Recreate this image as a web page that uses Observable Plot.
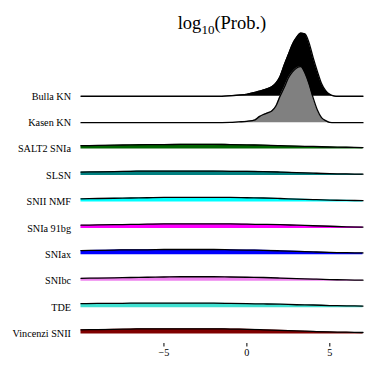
<!DOCTYPE html>
<html>
<head>
<meta charset="utf-8">
<script src="https://cdn.jsdelivr.net/npm/d3@7"></script>
<script src="https://cdn.jsdelivr.net/npm/@observablehq/plot@0.6"></script>
<style>
  html, body { margin: 0; padding: 0; background: white; }
</style>
</head>
<body>
<div id="chart"></div>
<script>
// Row names (top to bottom) and fill colours
const names = ["Bulla KN", "Kasen KN", "SALT2 SNIa", "SLSN", "SNII NMF", "SNIa 91bg", "SNIax", "SNIbc", "TDE", "Vincenzi SNII"];
const colors = ["black", "gray", "darkgreen", "teal", "cyan", "magenta", "blue", "violet", "turquoise", "maroon"];

// log10(Prob.) sample grids
const knGrid = [-10, -2, -1, -0.5, 0, 0.5, 0.75, 1, 1.25, 1.5, 1.75, 2, 2.25, 2.5, 2.75, 3, 3.25, 3.5, 3.75, 4, 4.25, 4.5, 4.75, 5, 5.25, 5.5, 7];
const coarseGrid = [-10, -9, -8, -7, -6, -5, -4, -3, -2, -1, 0, 1, 2, 3, 4, 5, 6, 7];

// density heights (in row units)
const bullaKN = [0, 0, 0.02, 0.045, 0.075, 0.15, 0.19, 0.24, 0.29, 0.36, 0.5, 0.75, 1.18, 1.58, 1.97, 2.23, 2.39, 2.36, 2.02, 1.45, 0.94, 0.48, 0.21, 0.07, 0.01, 0, 0];
const kasenKN = [0, 0, 0.01, 0.03, 0.05, 0.11, 0.23, 0.31, 0.37, 0.44, 0.63, 1.0, 1.33, 1.69, 1.92, 2.07, 2.12, 1.88, 1.46, 0.93, 0.48, 0.19, 0.08, 0.01, 0, 0, 0];
const salt2 = [0.13, 0.14, 0.15, 0.16, 0.17, 0.17, 0.18, 0.18, 0.18, 0.17, 0.16, 0.15, 0.13, 0.11, 0.1, 0.08, 0.07, 0.06];
const slsn = [0.13, 0.14, 0.15, 0.16, 0.17, 0.17, 0.17, 0.17, 0.17, 0.16, 0.16, 0.15, 0.13, 0.11, 0.09, 0.07, 0.06, 0.05];
const sniiNmf = [0.12, 0.13, 0.14, 0.15, 0.16, 0.17, 0.17, 0.17, 0.17, 0.17, 0.16, 0.15, 0.13, 0.11, 0.09, 0.07, 0.06, 0.05];
const snia91bg = [0.12, 0.13, 0.14, 0.15, 0.16, 0.17, 0.17, 0.17, 0.17, 0.17, 0.16, 0.15, 0.14, 0.12, 0.1, 0.08, 0.06, 0.05];
const sniax = [0.16, 0.17, 0.18, 0.19, 0.19, 0.2, 0.2, 0.2, 0.2, 0.19, 0.18, 0.17, 0.15, 0.13, 0.11, 0.09, 0.08, 0.07];
const snibc = [0.11, 0.12, 0.13, 0.14, 0.15, 0.16, 0.17, 0.17, 0.17, 0.16, 0.15, 0.14, 0.12, 0.1, 0.08, 0.06, 0.05, 0.04];
const tde = [0.15, 0.16, 0.16, 0.17, 0.17, 0.17, 0.17, 0.17, 0.17, 0.16, 0.15, 0.14, 0.13, 0.11, 0.1, 0.08, 0.07, 0.06];
const vincenziSNII = [0.16, 0.17, 0.18, 0.19, 0.2, 0.2, 0.2, 0.2, 0.2, 0.19, 0.18, 0.16, 0.14, 0.12, 0.1, 0.08, 0.07, 0.06];

const series = [bullaKN, kasenKN, salt2, slsn, sniiNmf, snia91bg, sniax, snibc, tde, vincenziSNII];
const grids = [knGrid, knGrid, coarseGrid, coarseGrid, coarseGrid, coarseGrid, coarseGrid, coarseGrid, coarseGrid, coarseGrid];
const xTicks = [-5, 0, 5];
const titleText = "log10(Prob.)";

const n = names.length;
const rowBase = names.map((_, i) => n - 1 - i);
const table = names.flatMap((name, i) =>
  grids[i].map((x, j) => ({name, x, base: rowBase[i], top: rowBase[i] + series[i][j]}))
);

const marks = names.flatMap((name) => {
  const rows = table.filter(d => d.name === name);
  return [
    Plot.areaY(rows, {x: "x", y1: "base", y2: "top", fill: "name", curve: "monotone-x"}),
    Plot.lineY(rows, {x: "x", y: "top", stroke: "black", strokeWidth: 1.3, curve: "monotone-x"})
  ];
});

marks.push(
  Plot.text([titleText], {text: d => d, frameAnchor: "top", lineAnchor: "bottom", dy: 11.5, fontSize: 18.5})
);

const chart = Plot.plot({
  width: 374,
  height: 374,
  marginLeft: 80.5,
  marginRight: 11.5,
  marginTop: 16.5,
  marginBottom: 31,
  style: {fontFamily: "'Liberation Serif', 'Times New Roman', serif", fontSize: "10.2px", background: "white", color: "black"},
  x: {domain: [-10, 7], ticks: xTicks, tickSize: 3.5, tickPadding: 2, label: null},
  y: {domain: [-0.357, 12], ticks: rowBase, tickFormat: d => names[n - 1 - d], tickSize: 0, tickPadding: 10, label: null},
  color: {type: "ordinal", domain: names, range: colors},
  marks
});

// render subscript in the title
for (const t of chart.querySelectorAll("text")) {
  if (t.textContent === titleText) {
    while (t.firstChild) t.removeChild(t.firstChild);
    const ns = "http://www.w3.org/2000/svg";
    t.appendChild(document.createTextNode("log"));
    const sub = document.createElementNS(ns, "tspan");
    sub.setAttribute("dy", "5");
    sub.setAttribute("font-size", "13");
    sub.textContent = "10";
    t.appendChild(sub);
    const rest = document.createElementNS(ns, "tspan");
    rest.setAttribute("dy", "-5");
    rest.textContent = "(Prob.)";
    t.appendChild(rest);
  }
}

document.getElementById("chart").appendChild(chart);
</script>
</body>
</html>
